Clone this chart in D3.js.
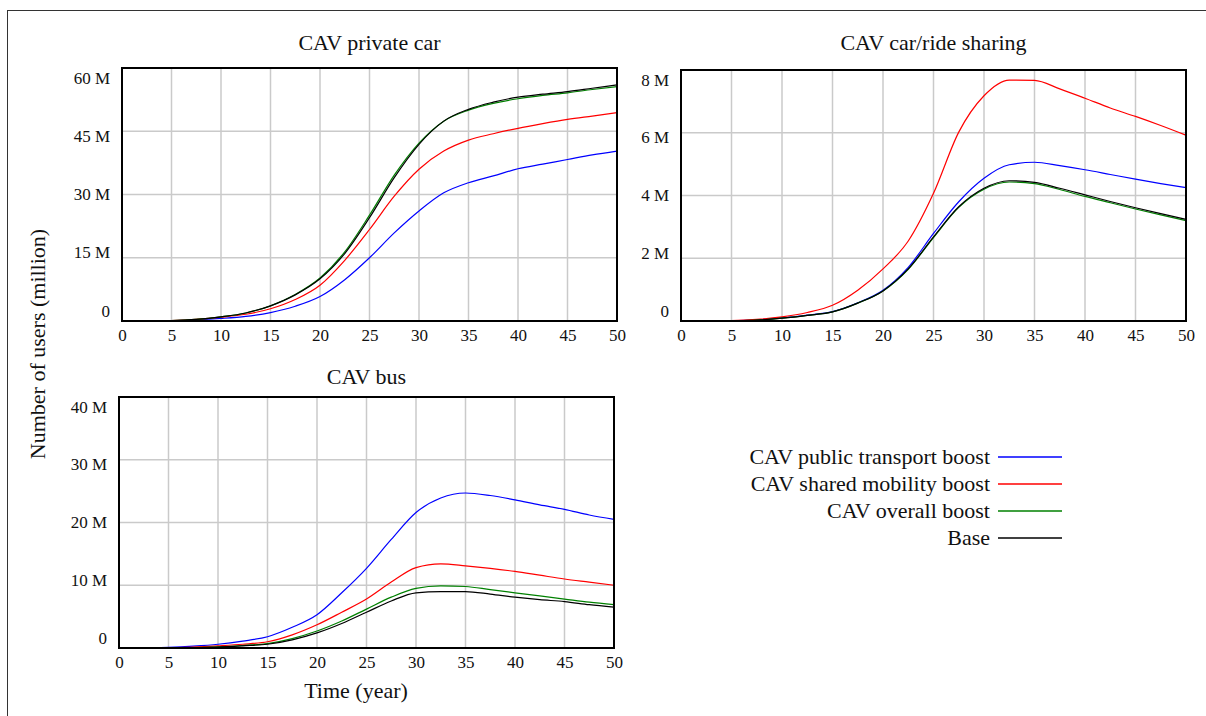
<!DOCTYPE html>
<html>
<head>
<meta charset="utf-8">
<script src="https://cdn.jsdelivr.net/npm/d3@7"></script>
<style>
  body { margin: 0; background: #fff; }
  svg { display: block; font-family: "Liberation Serif", "Times New Roman", serif; }
</style>
</head>
<body>
<div id="chart"></div>
<script>
// years on the x axis, values in millions of users
const years = [0, 2.5, 5, 7.5, 10, 12.5, 15, 17.5, 20, 22.5, 25, 27.5, 30, 32.5, 35, 37.5, 40, 42.5, 45, 47.5, 50];
const xTicks = [0, 5, 10, 15, 20, 25, 30, 35, 40, 45, 50];

const seriesNames = ['CAV public transport boost', 'CAV shared mobility boost', 'CAV overall boost', 'Base'];
const seriesColors = ['#0000ff', '#ff0000', '#008000', '#000000'];

// CAV private car
const privateTransport = [0, 0, 0.05, 0.25, 0.6, 1.1, 2.0, 3.5, 5.8, 9.8, 15.0, 20.9, 26.1, 30.4, 32.8, 34.4, 36.1, 37.2, 38.3, 39.4, 40.3];
const privateShared = [0, 0, 0.1, 0.4, 0.9, 1.6, 2.9, 5.1, 8.5, 14.4, 21.7, 29.6, 36.0, 40.3, 42.9, 44.4, 45.7, 46.8, 47.8, 48.6, 49.4];
const privateOverall = [0, 0, 0.1, 0.4, 1.0, 1.9, 3.6, 6.3, 10.2, 16.4, 25.1, 34.6, 42.2, 47.4, 50.0, 51.6, 52.7, 53.5, 54.1, 54.9, 55.6];
const privateBase = [0, 0, 0.1, 0.4, 1.0, 1.9, 3.6, 6.2, 10.0, 16.0, 24.5, 34.0, 41.9, 47.4, 50.2, 51.9, 53.1, 53.8, 54.4, 55.2, 56.0];
const privateTicks = [0, 15, 30, 45, 60];

// CAV car/ride sharing
const sharingTransport = [0, 0, 0.01, 0.04, 0.1, 0.19, 0.3, 0.58, 0.98, 1.71, 2.79, 3.80, 4.55, 4.98, 5.06, 4.95, 4.82, 4.67, 4.52, 4.38, 4.25];
const sharingShared = [0, 0, 0.01, 0.05, 0.13, 0.27, 0.5, 0.98, 1.66, 2.55, 4.07, 6.02, 7.18, 7.68, 7.67, 7.40, 7.10, 6.79, 6.52, 6.23, 5.92];
const sharingOverall = [0, 0, 0.01, 0.03, 0.09, 0.18, 0.29, 0.57, 0.96, 1.65, 2.66, 3.62, 4.20, 4.43, 4.38, 4.19, 3.97, 3.77, 3.57, 3.38, 3.20];
const sharingBase = [0, 0, 0.01, 0.03, 0.09, 0.18, 0.29, 0.57, 0.96, 1.66, 2.68, 3.64, 4.23, 4.47, 4.42, 4.23, 4.02, 3.81, 3.61, 3.42, 3.24];
const sharingTicks = [0, 2, 4, 6, 8];

// CAV bus
const busTransport = [0, 0, 0.1, 0.3, 0.6, 1.1, 1.8, 3.3, 5.3, 8.8, 12.7, 17.3, 21.6, 23.9, 24.7, 24.3, 23.6, 22.8, 22.1, 21.2, 20.5];
const busShared = [0, 0, 0.05, 0.15, 0.35, 0.6, 1.0, 2.1, 3.7, 5.7, 7.8, 10.5, 12.8, 13.4, 13.1, 12.7, 12.2, 11.6, 11.0, 10.5, 10.0];
const busOverall = [0, 0, 0.03, 0.08, 0.2, 0.4, 0.7, 1.5, 2.7, 4.3, 6.2, 8.1, 9.5, 9.9, 9.8, 9.3, 8.8, 8.3, 7.8, 7.3, 6.9];
const busBase = [0, 0, 0.02, 0.06, 0.15, 0.35, 0.6, 1.3, 2.4, 3.9, 5.7, 7.5, 8.8, 9.0, 9.0, 8.6, 8.1, 7.7, 7.4, 6.9, 6.5];
const busTicks = [0, 10, 20, 30, 40];

const width = 1206, height = 716;

const panels = [
  { title: 'CAV private car', box: { left: 122, right: 617, top: 68, bottom: 321 }, titleY: 50,
    ticks: privateTicks, series: [privateTransport, privateShared, privateOverall, privateBase] },
  { title: 'CAV car/ride sharing', box: { left: 681, right: 1186, top: 70, bottom: 321 }, titleY: 50,
    ticks: sharingTicks, series: [sharingTransport, sharingShared, sharingOverall, sharingBase] },
  { title: 'CAV bus', box: { left: 119, right: 614, top: 397, bottom: 648 }, titleY: 384,
    ticks: busTicks, series: [busTransport, busShared, busOverall, busBase] }
];

const svg = d3.select('#chart').append('svg')
  .attr('width', width)
  .attr('height', height);

// outer figure border
svg.append('rect')
  .attr('x', 7.5).attr('y', 10.5)
  .attr('width', width + 10).attr('height', height + 10)
  .attr('fill', 'none')
  .attr('stroke', '#333')
  .attr('stroke-width', 1);

panels.forEach(p => {
  const b = p.box;
  const yMax = d3.max(p.ticks);
  const x = d3.scaleLinear().domain([0, 50]).range([b.left, b.right]);
  const y = d3.scaleLinear().domain([0, yMax]).range([b.bottom, b.top]);
  // labels are spread a little inside the frame, as in the original
  const yLabel = d3.scaleLinear().domain([0, yMax]).range([b.bottom - 5, b.top + 15]);

  const g = svg.append('g');

  // grid
  g.append('g').selectAll('line')
    .data(xTicks.slice(1, -1))
    .join('line')
    .attr('x1', d => x(d)).attr('x2', d => x(d))
    .attr('y1', b.top).attr('y2', b.bottom)
    .attr('stroke', '#cacaca').attr('stroke-width', 1.5);
  g.append('g').selectAll('line')
    .data(p.ticks.slice(1, -1))
    .join('line')
    .attr('x1', b.left).attr('x2', b.right)
    .attr('y1', d => y(d)).attr('y2', d => y(d))
    .attr('stroke', '#cacaca').attr('stroke-width', 1.5);

  // x axis labels
  const xAxis = g.append('g')
    .attr('transform', `translate(0,${b.bottom})`)
    .call(d3.axisBottom(x).tickValues(xTicks).tickSize(0).tickFormat(d3.format('d')));
  xAxis.select('.domain').remove();
  xAxis.selectAll('text')
    .attr('dy', null).attr('y', 20)
    .attr('font-family', 'Liberation Serif, serif')
    .attr('font-size', 17).attr('fill', '#111');

  // y axis labels
  const yAxis = g.append('g')
    .attr('transform', `translate(${b.left},0)`)
    .call(d3.axisLeft(yLabel).tickValues(p.ticks).tickSize(0)
      .tickFormat(d => d === 0 ? '0' : d + ' M'));
  yAxis.select('.domain').remove();
  yAxis.selectAll('text')
    .attr('dy', null).attr('x', -12)
    .attr('font-family', 'Liberation Serif, serif')
    .attr('font-size', 17).attr('fill', '#111');

  // lines
  const line = d3.line()
    .x((d, i) => x(years[i]))
    .y(d => y(d))
    .curve(d3.curveMonotoneX);
  g.append('g').selectAll('path')
    .data(p.series)
    .join('path')
    .attr('d', line)
    .attr('fill', 'none')
    .attr('stroke', (d, i) => seriesColors[i])
    .attr('stroke-width', 1.2);

  // frame
  g.append('rect')
    .attr('x', b.left).attr('y', b.top)
    .attr('width', b.right - b.left).attr('height', b.bottom - b.top)
    .attr('fill', 'none').attr('stroke', '#000').attr('stroke-width', 2);

  // title
  g.append('text')
    .attr('x', (b.left + b.right) / 2).attr('y', p.titleY)
    .attr('text-anchor', 'middle')
    .attr('font-size', 22).attr('fill', '#111')
    .text(p.title);
});

// axis titles
svg.append('text')
  .attr('transform', 'translate(45,344) rotate(-90)')
  .attr('text-anchor', 'middle')
  .attr('font-size', 22).attr('fill', '#111')
  .text('Number of users (million)');

svg.append('text')
  .attr('x', 356).attr('y', 698)
  .attr('text-anchor', 'middle')
  .attr('font-size', 22).attr('fill', '#111')
  .text('Time (year)');

// legend
const legend = svg.append('g').selectAll('g')
  .data(seriesNames)
  .join('g')
  .attr('transform', (d, i) => `translate(0,${457 + i * 27})`);
legend.append('text')
  .attr('x', 990).attr('y', 7)
  .attr('text-anchor', 'end')
  .attr('font-size', 22).attr('fill', '#111')
  .text(d => d);
legend.append('line')
  .attr('x1', 998).attr('x2', 1062)
  .attr('y1', 0).attr('y2', 0)
  .attr('stroke', (d, i) => seriesColors[i])
  .attr('stroke-width', 1.6);
</script>
</body>
</html>
